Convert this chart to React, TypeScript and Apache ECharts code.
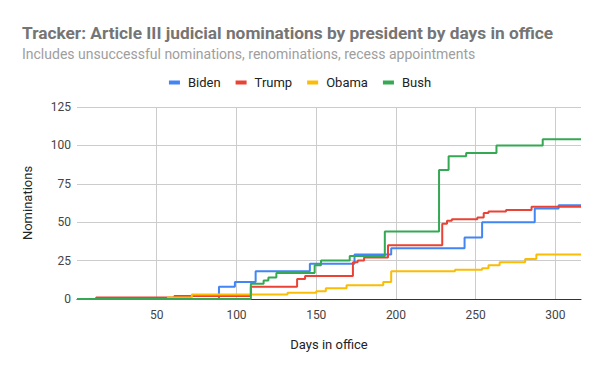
import React, { useEffect, useRef } from "react";
import * as echarts from "echarts";

const seriesNames = ["Biden", "Trump", "Obama", "Bush"];
const seriesColors = ["#4285F4", "#EA4335", "#FBBC04", "#34A853"];

// [day in office, cumulative nominations]
const biden: [number, number][] = [
  [0, 0], [89, 8], [99, 11], [112, 18], [146, 23], [174, 29], [197, 33],
  [243, 40], [254, 50], [287, 59], [302, 61], [316, 61],
];
const trump: [number, number][] = [
  [0, 0], [12, 1], [61, 2], [109, 8], [138, 13], [143, 15], [173, 24],
  [176, 25], [180, 27], [195, 35], [229, 49], [232, 51], [235, 52],
  [251, 53], [255, 56], [258, 57], [269, 58], [285, 60], [316, 60],
];
const obama: [number, number][] = [
  [0, 0], [57, 1], [72, 3], [132, 4], [150, 5], [156, 7], [169, 9],
  [192, 11], [197, 18], [237, 19], [254, 20], [258, 22], [265, 24],
  [281, 26], [288, 29], [316, 29],
];
const bush: [number, number][] = [
  [0, 0], [109, 10], [117, 12], [120, 14], [125, 17], [149, 22], [153, 25],
  [171, 28], [193, 44], [227, 84], [233, 93], [244, 95], [263, 100],
  [292, 104], [316, 104],
];
const allData = [biden, trump, obama, bush];

const titleText = "Tracker: Article III judicial nominations by president by days in office";
const subtitleText = "Includes unsuccessful nominations, renominations, recess appointments";
const xName = "Days in office";
const yName = "Nominations";

export default function App() {
  const ref = useRef<HTMLDivElement>(null);
  useEffect(() => {
    document.body.style.margin = "0";
    if (!ref.current) return;
    const chart = echarts.init(ref.current, null, { renderer: "svg" });
    chart.setOption({
      animation: false,
      backgroundColor: "#ffffff",
      title: [
        {
          text: titleText,
          left: 17,
          top: 19,
          textStyle: { fontFamily: "Roboto", fontSize: 17.3, fontWeight: "bold", color: "#757575" },
        },
        {
          text: subtitleText,
          left: 17,
          top: 42,
          textStyle: { fontFamily: "Roboto", fontSize: 14, fontWeight: "normal", color: "#9e9e9e" },
        },
      ],
      legend: {
        data: seriesNames,
        top: 71,
        left: "center",
        icon: "rect",
        itemWidth: 11,
        itemHeight: 4,
        itemGap: 15,
        textStyle: { fontFamily: "Roboto", fontSize: 13, color: "#222222", padding: [0, 0, 0, 3] },
      },
      grid: { left: 77, right: 19, top: 107, bottom: 72, containLabel: false },
      xAxis: {
        type: "value",
        min: 0,
        max: 316,
        interval: 50,
        name: xName,
        nameLocation: "middle",
        nameGap: 39,
        nameTextStyle: { fontFamily: "Roboto", fontSize: 13, color: "#222222" },
        axisLine: { show: true, lineStyle: { color: "#333333", width: 1 } },
        axisTick: { show: false },
        axisLabel: {
          showMinLabel: false,
          showMaxLabel: false,
          margin: 10,
          fontFamily: "Roboto",
          fontSize: 12,
          color: "#444444",
        },
        splitLine: { show: true, showMinLine: false, showMaxLine: false, lineStyle: { color: "#cccccc", width: 1 } },
      },
      yAxis: {
        type: "value",
        min: 0,
        max: 125,
        interval: 25,
        name: yName,
        nameLocation: "middle",
        nameGap: 43,
        nameTextStyle: { fontFamily: "Roboto", fontSize: 13, color: "#222222" },
        axisLine: { show: false },
        axisTick: { show: false },
        axisLabel: { margin: 6, fontFamily: "Roboto", fontSize: 12, color: "#444444" },
        splitLine: { show: true, lineStyle: { color: "#cccccc", width: 1 } },
      },
      series: seriesNames.map((name, i) => ({
        name,
        type: "line",
        step: "end",
        data: allData[i],
        showSymbol: false,
        color: seriesColors[i],
        lineStyle: { width: 2, color: seriesColors[i] },
        z: 2 + i,
      })),
    });
    return () => chart.dispose();
  }, []);
  return <div ref={ref} style={{ width: 600, height: 371 }} />;
}
